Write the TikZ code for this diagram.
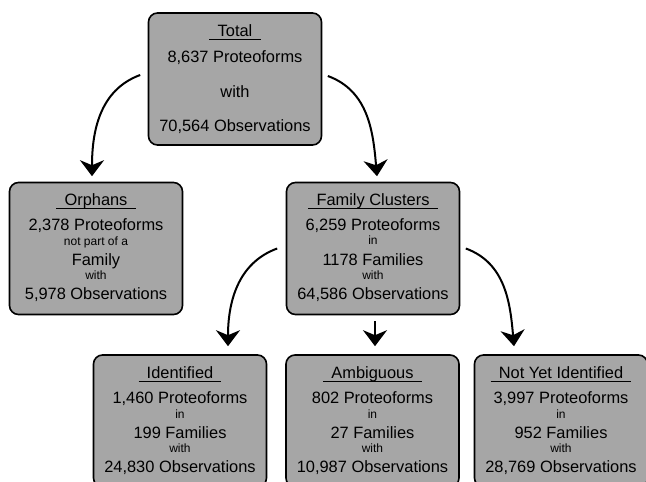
\documentclass[tikz,border=0pt]{standalone}
\usepackage{fontspec}
\setmainfont{Liberation Sans}
\usetikzlibrary{arrows.meta}
\definecolor{boxgray}{HTML}{A6A6A6}

\begin{document}
\begin{tikzpicture}[
  x=1pt, y=-1pt,
  panel/.style={draw, line width=1.6pt, rounded corners=9pt, fill=boxgray,
    minimum width=173pt, minimum height=132pt, inner sep=0pt},
  big/.style={font=\fontsize{16.4}{19}\selectfont, anchor=base, inner sep=0pt},
  little/.style={font=\fontsize{12}{14}\selectfont, anchor=base, inner sep=0pt},
  head/.style={big, inner xsep=8pt},
  uline/.style={line width=1.2pt},
  arr/.style={line width=2pt, -{Stealth[length=16pt,width=24pt,inset=5pt]}}]
  \useasboundingbox (0,0) rectangle (646,482);
  \clip (0,0) rectangle (646,482);

  % boxes
  \node[panel] (total) at (235,79) {};
  \node[panel] (orph) at (96,248.5) {};
  \node[panel] (fam) at (373,248.5) {};
  \node[panel] (ident) at (180,421) {};
  \node[panel] (amb) at (372.5,421) {};
  \node[panel] (nyi) at (561,421) {};

  % titles
  \node[head] (totalT) at ([yshift=-24]total.north) {Total};
  \node[head] (orphT) at ([yshift=-24]orph.north) {Orphans};
  \node[head] (famT) at ([yshift=-24]fam.north) {Family Clusters};
  \node[head] (identT) at ([yshift=-24]ident.north) {Identified};
  \node[head] (ambT) at ([yshift=-24]amb.north) {Ambiguous};
  \node[head] (nyiT) at ([yshift=-24]nyi.north) {Not Yet Identified};
  \foreach \n in {totalT,orphT,famT,identT,ambT,nyiT}
    \draw[uline] ([yshift=-3]\n.base west) -- ([yshift=-3]\n.base east);

  % box texts
  \foreach \s/\dy/\t [count=\i] in {big/50/{8,637 Proteoforms}, big/85/with,
      big/119/{70,564 Observations}}
    \node[\s] (total\i) at ([yshift=-\dy]total.north) {\t};
  \foreach \s/\dy/\t [count=\i] in {big/49/{2,378 Proteoforms}, little/64/not part of a,
      big/84/Family, little/98/with, big/118/{5,978 Observations}}
    \node[\s] (orph\i) at ([yshift=-\dy]orph.north) {\t};
  \foreach \s/\dy/\t [count=\i] in {big/49/{6,259 Proteoforms}, little/63/in,
      big/84/1178 Families, little/98/with, big/118/{64,586 Observations}}
    \node[\s] (fam\i) at ([yshift=-\dy]fam.north) {\t};
  \foreach \s/\dy/\t [count=\i] in {big/49/{1,460 Proteoforms}, little/64/in,
      big/84/199 Families, little/98/with, big/118/{24,830 Observations}}
    \node[\s] (ident\i) at ([yshift=-\dy]ident.north) {\t};
  \foreach \s/\dy/\t [count=\i] in {big/49/802 Proteoforms, little/64/in,
      big/84/27 Families, little/98/with, big/118/{10,987 Observations}}
    \node[\s] (amb\i) at ([yshift=-\dy]amb.north) {\t};
  \foreach \s/\dy/\t [count=\i] in {big/49/{3,997 Proteoforms}, little/64/in,
      big/84/952 Families, little/98/with, big/118/{28,769 Observations}}
    \node[\s] (nyi\i) at ([yshift=-\dy]nyi.north) {\t};

  % arrows
  \draw[arr] ([shift={(-7.5,-4)}]total.west) to[out=200,in=90] ([shift={(-4,-5.5)}]orph.north);
  \draw[arr] ([shift={(5.5,-3)}]total.east) to[out=-20,in=95] ([shift={(4,-5.5)}]fam.north);
  \draw[arr] ([shift={(-8.5,0)}]fam.west) to[out=200,in=90] ([shift={(48,-8)}]ident.north);
  \draw[arr] ([shift={(2,6)}]fam.south) -- ([shift={(2.5,-8)}]amb.north);
  \draw[arr] ([shift={(5.5,0)}]fam.east) to[out=-20,in=95] ([shift={(-47,-8)}]nyi.north);
\end{tikzpicture}
\end{document}
